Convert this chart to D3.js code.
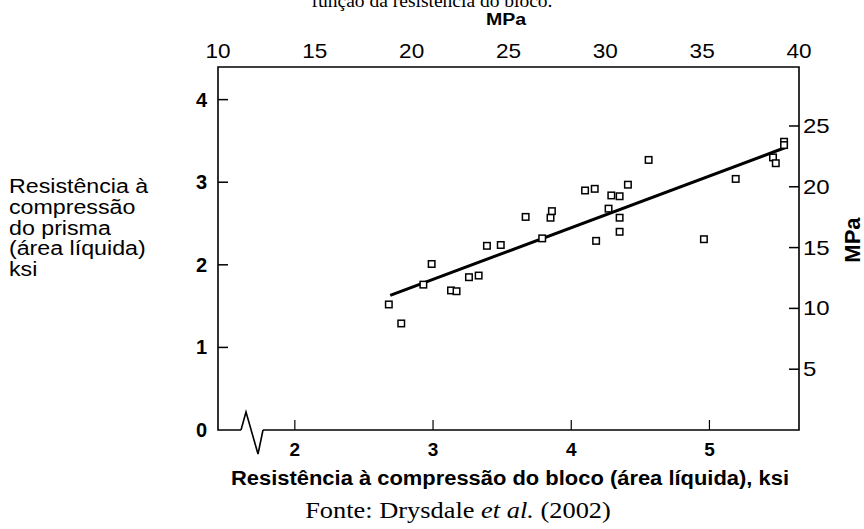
<!DOCTYPE html>
<html>
<head>
<meta charset="utf-8">
<script src="https://cdn.jsdelivr.net/npm/d3@7"></script>
<style>
  body { margin: 0; background: #fff; }
  svg { display: block; }
</style>
</head>
<body>
<svg id="chart" width="864" height="529"></svg>
<script>
// block strength (ksi, net area) vs prism strength (ksi, net area)
const blockKsi = [2.68, 2.77, 2.93, 2.99, 3.13, 3.17, 3.26, 3.33, 3.39, 3.49,
                  3.67, 3.79, 3.85, 3.86, 4.10, 4.17, 4.18, 4.27, 4.29, 4.35,
                  4.35, 4.35, 4.41, 4.56, 4.96, 5.19, 5.46, 5.48, 5.54, 5.54];
const prismKsi = [1.52, 1.29, 1.76, 2.01, 1.69, 1.68, 1.85, 1.87, 2.23, 2.24,
                  2.58, 2.32, 2.57, 2.65, 2.90, 2.92, 2.29, 2.68, 2.84, 2.83,
                  2.57, 2.40, 2.97, 3.27, 2.31, 3.04, 3.30, 3.23, 3.49, 3.45];
const fitLine = [[2.69, 1.63], [5.55, 3.42]];

const xTicks = [2, 3, 4, 5];
const yTicks = [0, 1, 2, 3, 4];
const topMPaTicks = [10, 15, 20, 25, 30, 35, 40];
const rightMPaTicks = [5, 10, 15, 20, 25];

const yTitleLines = ["Resistência à", "compressão", "do prisma", "(área líquida)", "ksi"];

const svg = d3.select("#chart");
const L = 218, R = 799, T = 67, B = 430;

const x = d3.scaleLinear().domain([1.444, 5.648]).range([L, R]);
const y = d3.scaleLinear().domain([0, 4.395]).range([B, T]);
const xTop = d3.scaleLinear().domain([10, 40]).range([L, R]);
const yRight = d3.scaleLinear().domain([0, 29.85]).range([B, T]);

const sans = "'Liberation Sans', Arial, sans-serif";
const serif = "'Liberation Serif', 'Times New Roman', serif";

// the scanned figure is a bit wider than tall, so text gets a horizontal stretch
function label(g, px, py, str, opts) {
  const o = Object.assign({ size: 19, sx: 1, anchor: "start", weight: "normal", family: sans }, opts);
  return g.append("text")
    .attr("transform", `translate(${px},${py}) scale(${o.sx},1)`)
    .attr("text-anchor", o.anchor).attr("font-family", o.family)
    .attr("font-weight", o.weight).attr("font-size", o.size)
    .text(str);
}

// clipped heading from the page above
label(svg, 432, 7, "função da resistência do bloco.", { size: 19.5, anchor: "middle", family: serif });

// frame with axis break at bottom left
const frame = d3.path();
frame.moveTo(L + 23, B);
frame.lineTo(L, B); frame.lineTo(L, T); frame.lineTo(R, T); frame.lineTo(R, B); frame.lineTo(L + 45, B);
svg.append("path").attr("d", frame.toString()).attr("fill", "none").attr("stroke", "#000").attr("stroke-width", 1.6);
svg.append("path")
  .attr("d", d3.line()([[L + 23, B], [L + 28, B - 18], [L + 40, B + 24], [L + 45, B]]))
  .attr("fill", "none").attr("stroke", "#000").attr("stroke-width", 1.6);

// left ticks
const gl = svg.append("g");
gl.selectAll("line").data(yTicks.filter(d => d > 0)).join("line")
  .attr("x1", L).attr("x2", L + 10).attr("y1", d => y(d)).attr("y2", d => y(d))
  .attr("stroke", "#000").attr("stroke-width", 1.5);
yTicks.forEach(d => label(gl, L - 11, y(d) + 7, d, { size: 20, anchor: "end", weight: "bold" }));

// bottom ticks
const gb = svg.append("g");
gb.selectAll("line").data(xTicks).join("line")
  .attr("x1", d => x(d)).attr("x2", d => x(d)).attr("y1", B).attr("y2", B - 10)
  .attr("stroke", "#000").attr("stroke-width", 1.2);
xTicks.forEach(d => label(gb, x(d), 456, d, { size: 19, anchor: "middle", weight: "bold" }));

// top MPa labels (no tick marks)
const gt = svg.append("g");
topMPaTicks.forEach(d => label(gt, xTop(d), 58, d, { size: 20, sx: 1.13, anchor: "middle" }));
label(svg, 506, 25, "MPa", { size: 17, sx: 1.15, anchor: "middle", weight: "bold" });

// right MPa ticks
const gr = svg.append("g");
gr.selectAll("line").data(rightMPaTicks).join("line")
  .attr("x1", R - 10).attr("x2", R).attr("y1", d => yRight(d)).attr("y2", d => yRight(d))
  .attr("stroke", "#000").attr("stroke-width", 1.5);
rightMPaTicks.forEach(d => label(gr, R + 4, yRight(d) + 7, d, { size: 20, sx: 1.2 }));
svg.append("text")
  .attr("transform", "translate(860,240) rotate(-90)")
  .attr("text-anchor", "middle").attr("font-family", sans).attr("font-weight", "bold").attr("font-size", 22)
  .text("MPa");

// fit line
svg.append("path")
  .attr("d", d3.line().x(d => x(d[0])).y(d => y(d[1]))(fitLine))
  .attr("stroke", "#000").attr("stroke-width", 3).attr("fill", "none");

// data squares
const s = 6.5;
svg.append("g").selectAll("rect").data(blockKsi.map((b, i) => [b, prismKsi[i]])).join("rect")
  .attr("x", d => x(d[0]) - s / 2).attr("y", d => y(d[1]) - s / 2)
  .attr("width", s).attr("height", s)
  .attr("fill", "#fff").attr("stroke", "#000").attr("stroke-width", 1.5);

// y title block on the left
const gy = svg.append("g");
yTitleLines.forEach((t, i) => label(gy, 9, 193 + i * 20.8, t, { size: 19.5, sx: 1.19 }));

// x title and source
label(svg, 510, 485, "Resistência à compressão do bloco (área líquida), ksi",
  { size: 20.5, sx: 1.07, anchor: "middle", weight: "bold" });
const src = svg.append("text")
  .attr("transform", "translate(458,518) scale(1.1,1)")
  .attr("text-anchor", "middle").attr("font-family", serif).attr("font-size", 24);
src.append("tspan").text("Fonte: Drysdale ");
src.append("tspan").attr("font-style", "italic").text("et al.");
src.append("tspan").text(" (2002)");
</script>
</body>
</html>
